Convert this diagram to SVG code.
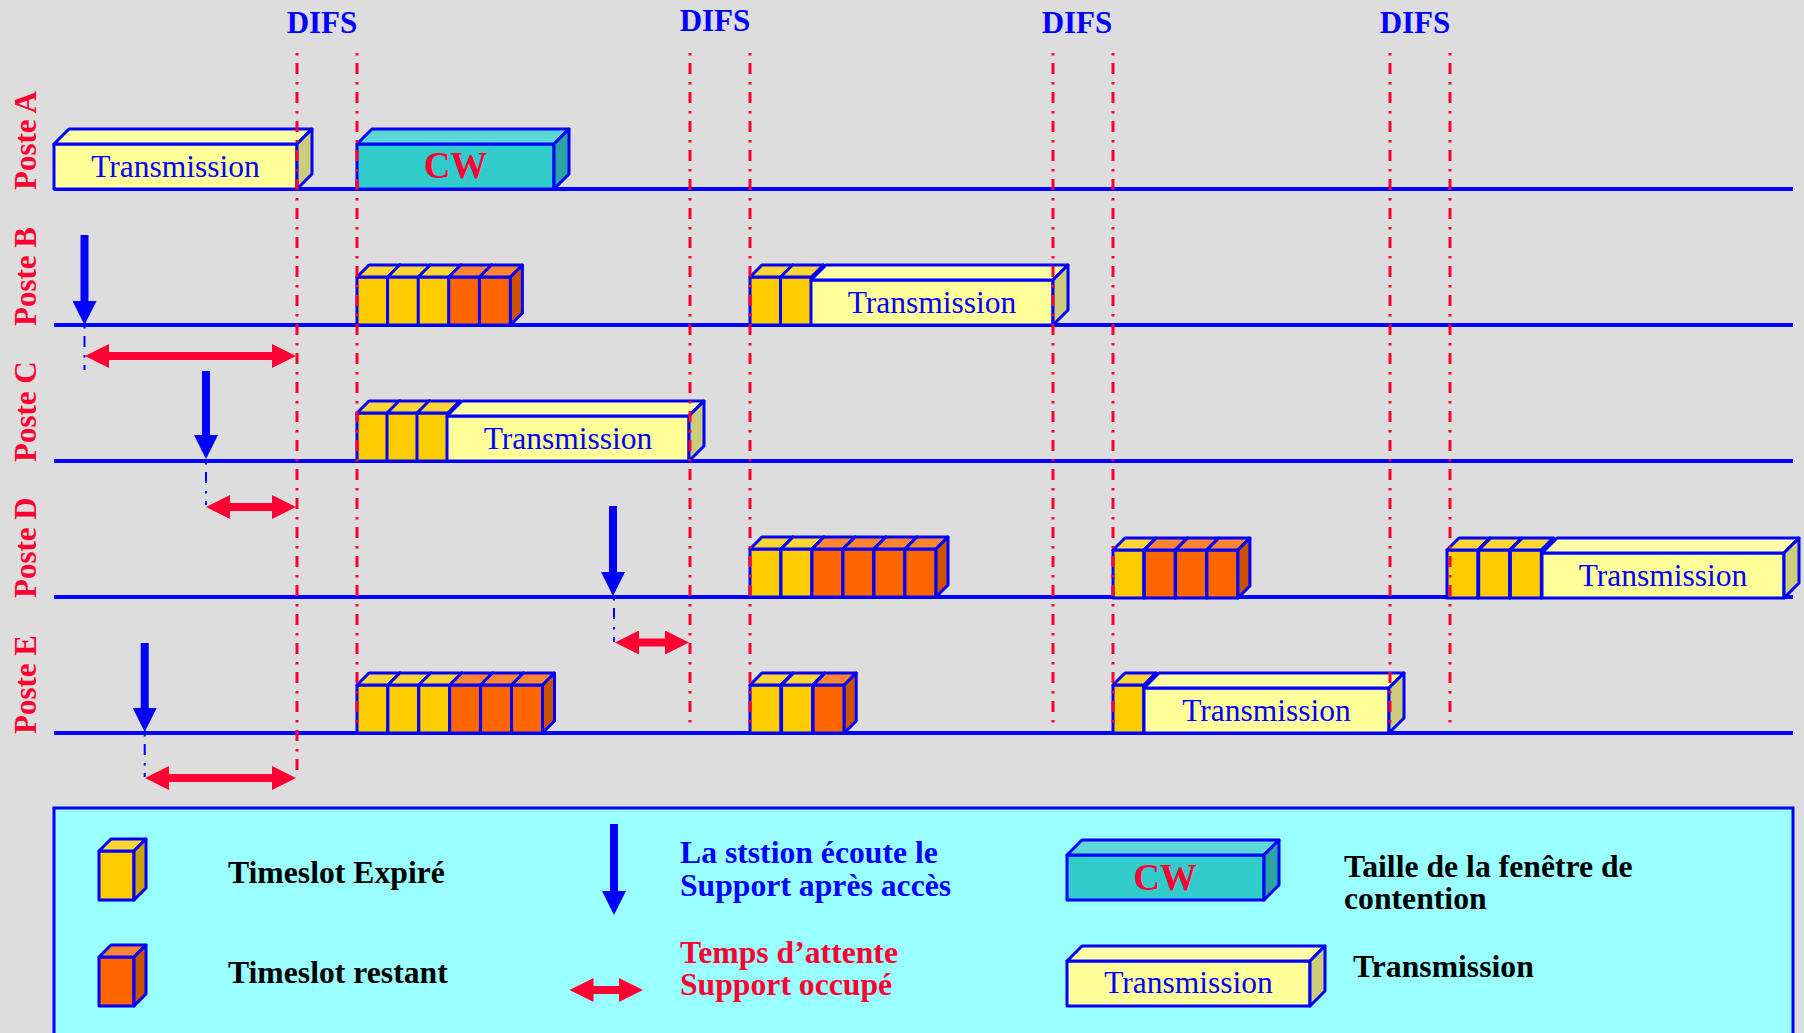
<svg xmlns="http://www.w3.org/2000/svg" xmlns:xlink="http://www.w3.org/1999/xlink" width="1804" height="1033" viewBox="0 0 1804 1033">
<style>
.bx{stroke:#0000FF;stroke-width:3;stroke-linejoin:round}
.fy{fill:#FFCC00}.ty{fill:#FFD633}.sy{fill:#CCA300}
.fo{fill:#FF6600}.to{fill:#FF8533}.so{fill:#CC5200}
.ft{fill:#FFFF99}.tt{fill:#FFFFA6}.st{fill:#CCCC7A}
.fc{fill:#33CCCC}.tc{fill:#5CD6D6}.sc{fill:#2AA3A3}
.base{stroke:#0000FF;stroke-width:4;fill:none}
.difs{stroke:#FF0033;stroke-width:3;stroke-dasharray:2.5 7.5 11 8;fill:none}
.bdot{stroke:#0000FF;stroke-width:2;stroke-dasharray:2.5 7.5 11 8;fill:none}
.barr{stroke:#0000FF;stroke-width:8;fill:none;marker-end:url(#hb)}
.rarr{stroke:#FF0033;stroke-width:8;fill:none;marker-start:url(#hr);marker-end:url(#hr)}
.tx{font-family:"Liberation Serif","Times New Roman",serif;font-size:31.5px;fill:#0000FF;text-anchor:middle}
.lbl{font-family:"Liberation Serif","Times New Roman",serif;font-size:31px;font-weight:bold}
.leg{font-family:"Liberation Serif","Times New Roman",serif;font-size:31.7px;font-weight:bold}
.cw{font-family:"Liberation Serif","Times New Roman",serif;font-size:37px;font-weight:bold;fill:#FF0033;text-anchor:middle}
</style>
<defs>
<marker id="hb" viewBox="0 0 3 3" markerWidth="3" markerHeight="3" refX="0.125" refY="1.5" orient="auto"><path d="M0,0 L3,1.5 L0,3 Z" fill="#0000FF"/></marker>
<marker id="hr" viewBox="0 0 3 3" markerWidth="3" markerHeight="3" refX="0.125" refY="1.5" orient="auto-start-reverse"><path d="M0,0 L3,1.5 L0,3 Z" fill="#FF0033"/></marker>
<g id="cy" class="bx"><rect class="fy" x="0" y="-48" width="31" height="48"/><polygon class="ty" points="0,-48 12,-60 43,-60 31,-48"/><polygon class="sy" points="31,-48 43,-60 43,-12 31,0"/></g>
<g id="co" class="bx"><rect class="fo" x="0" y="-48" width="31" height="48"/><polygon class="to" points="0,-48 12,-60 43,-60 31,-48"/><polygon class="so" points="31,-48 43,-60 43,-12 31,0"/></g>
</defs>
<rect x="0" y="0" width="1804" height="1033" fill="#DDDDDD"/>

<g id="timelines">
<line class="base" x1="54" y1="189" x2="1793" y2="189"/>
<line class="base" x1="54" y1="325" x2="1793" y2="325"/>
<line class="base" x1="54" y1="461" x2="1793" y2="461"/>
<line class="base" x1="54" y1="597" x2="1793" y2="597"/>
<line class="base" x1="54" y1="733" x2="1793" y2="733"/>
</g>

<g id="labels" class="lbl" fill="#FF0033">
<text transform="translate(36,190) rotate(-90)">Poste A</text>
<text transform="translate(36,326) rotate(-90)">Poste B</text>
<text transform="translate(36,462) rotate(-90)">Poste C</text>
<text transform="translate(36,598) rotate(-90)">Poste D</text>
<text transform="translate(36,734) rotate(-90)">Poste E</text>
</g>

<g id="difs-labels" class="lbl" fill="#0000FF" text-anchor="middle">
<text x="322" y="33">DIFS</text>
<text x="715" y="31">DIFS</text>
<text x="1077" y="33">DIFS</text>
<text x="1415" y="33">DIFS</text>
</g>

<g id="posteA">
<g class="bx"><rect class="ft" x="54" y="144" width="243" height="45"/><polygon class="tt" points="54,144 69,129 312,129 297,144"/><polygon class="st" points="297,144 312,129 312,174 297,189"/></g>
<text class="tx" x="175.5" y="177">Transmission</text>
<g class="bx"><rect class="fc" x="357" y="144" width="197" height="45"/><polygon class="tc" points="357,144 372,129 569,129 554,144"/><polygon class="sc" points="554,144 569,129 569,174 554,189"/></g>
<text class="cw" x="455.5" y="178">CW</text>
</g>

<g id="posteB">
<use href="#cy" x="357" y="325"/><use href="#cy" x="387.6" y="325"/><use href="#cy" x="418.2" y="325"/><use href="#co" x="448.8" y="325"/><use href="#co" x="479.4" y="325"/>
<use href="#cy" x="750" y="325"/><use href="#cy" x="780.5" y="325"/>
<g class="bx"><rect class="ft" x="811" y="280" width="242" height="45"/><polygon class="tt" points="811,280 826,265 1068,265 1053,280"/><polygon class="st" points="1053,280 1068,265 1068,310 1053,325"/></g>
<text class="tx" x="932" y="313">Transmission</text>
</g>

<g id="posteC">
<use href="#cy" x="357" y="461"/><use href="#cy" x="387" y="461"/><use href="#cy" x="417" y="461"/>
<g class="bx"><rect class="ft" x="447" y="416" width="242" height="45"/><polygon class="tt" points="447,416 462,401 704,401 689,416"/><polygon class="st" points="689,416 704,401 704,446 689,461"/></g>
<text class="tx" x="568" y="449">Transmission</text>
</g>

<g id="posteD">
<use href="#cy" x="750" y="597"/><use href="#cy" x="781" y="597"/><use href="#co" x="812" y="597"/><use href="#co" x="843" y="597"/><use href="#co" x="874" y="597"/><use href="#co" x="905" y="597"/>
<use href="#cy" x="1113" y="598"/><use href="#co" x="1144.3" y="598"/><use href="#co" x="1175.6" y="598"/><use href="#co" x="1206.9" y="598"/>
<use href="#cy" x="1447" y="598"/><use href="#cy" x="1478.7" y="598"/><use href="#cy" x="1510.4" y="598"/>
<g class="bx"><rect class="ft" x="1542" y="553" width="242" height="45"/><polygon class="tt" points="1542,553 1557,538 1799,538 1784,553"/><polygon class="st" points="1784,553 1799,538 1799,583 1784,598"/></g>
<text class="tx" x="1663" y="586">Transmission</text>
</g>

<g id="posteE">
<use href="#cy" x="357" y="733"/><use href="#cy" x="387.9" y="733"/><use href="#cy" x="418.8" y="733"/><use href="#co" x="449.7" y="733"/><use href="#co" x="480.6" y="733"/><use href="#co" x="511.5" y="733"/>
<use href="#cy" x="750" y="733"/><use href="#cy" x="781.6" y="733"/><use href="#co" x="813.2" y="733"/>
<use href="#cy" x="1113" y="733"/>
<g class="bx"><rect class="ft" x="1144" y="688" width="245" height="45"/><polygon class="tt" points="1144,688 1159,673 1404,673 1389,688"/><polygon class="st" points="1389,688 1404,673 1404,718 1389,733"/></g>
<text class="tx" x="1266.5" y="721">Transmission</text>
</g>

<g id="connectors">
<line class="difs" x1="297" y1="53" x2="297" y2="776"/>
<line class="difs" x1="357" y1="53" x2="357" y2="728"/>
<line class="difs" x1="690" y1="53" x2="690" y2="728"/>
<line class="difs" x1="750" y1="53" x2="750" y2="728"/>
<line class="difs" x1="1053" y1="53" x2="1053" y2="728"/>
<line class="difs" x1="1113" y1="53" x2="1113" y2="728"/>
<line class="difs" x1="1390" y1="53" x2="1390" y2="728"/>
<line class="difs" x1="1450" y1="53" x2="1450" y2="728"/>
<line class="bdot" x1="84.5" y1="326" x2="84.5" y2="370"/>
<line class="bdot" x1="206" y1="462" x2="206" y2="505"/>
<line class="bdot" x1="614" y1="598" x2="614" y2="642"/>
<line class="bdot" x1="144.7" y1="734" x2="144.7" y2="777"/>
<line class="barr" x1="84.5" y1="235" x2="84.5" y2="302"/>
<line class="barr" x1="206" y1="371" x2="206" y2="436"/>
<line class="barr" x1="613" y1="506" x2="613" y2="573"/>
<line class="barr" x1="144.7" y1="643" x2="144.7" y2="709"/>
<line class="rarr" x1="108" y1="356" x2="273" y2="356"/>
<line class="rarr" x1="229" y1="507" x2="273" y2="507"/>
<line class="rarr" x1="638" y1="642.5" x2="666" y2="642.5"/>
<line class="rarr" x1="168" y1="778" x2="273" y2="778"/>
</g>

<g id="legend">
<rect x="54" y="808" width="1739" height="240" fill="#99FFFF" stroke="#0000FF" stroke-width="3"/>
<g id="leg-expired">
<g class="bx"><rect class="fy" x="99" y="851" width="35" height="49"/><polygon class="ty" points="99,851 111,839 146,839 134,851"/><polygon class="sy" points="134,851 146,839 146,888 134,900"/></g>
<text class="leg" x="228" y="883" fill="#000000">Timeslot Expiré</text>
</g>
<g id="leg-remaining">
<g class="bx"><rect class="fo" x="99" y="957" width="35" height="49"/><polygon class="to" points="99,957 111,945 146,945 134,957"/><polygon class="so" points="134,957 146,945 146,994 134,1006"/></g>
<text class="leg" x="228" y="983" fill="#000000">Timeslot restant</text>
</g>
<g id="leg-listen">
<line class="barr" x1="614" y1="824" x2="614" y2="892"/>
<text class="leg" fill="#0000FF"><tspan x="680" y="863">La ststion écoute le</tspan><tspan x="680" y="896">Support après accès</tspan></text>
</g>
<g id="leg-wait">
<line class="rarr" x1="592.5" y1="990" x2="620" y2="990"/>
<text class="leg" fill="#FF0033"><tspan x="680" y="963">Temps d’attente</tspan><tspan x="680" y="995">Support occupé</tspan></text>
</g>
<g id="leg-cw">
<g class="bx"><rect class="fc" x="1067" y="855" width="197" height="45"/><polygon class="tc" points="1067,855 1082,840 1279,840 1264,855"/><polygon class="sc" points="1264,855 1279,840 1279,885 1264,900"/></g>
<text class="cw" x="1165" y="890">CW</text>
<text class="leg" fill="#000000"><tspan x="1344" y="877">Taille de la fenêtre de</tspan><tspan x="1344" y="909">contention</tspan></text>
</g>
<g id="leg-tx">
<g class="bx"><rect class="ft" x="1067" y="961" width="243" height="45"/><polygon class="tt" points="1067,961 1082,946 1325,946 1310,961"/><polygon class="st" points="1310,961 1325,946 1325,991 1310,1006"/></g>
<text class="tx" x="1188.5" y="993">Transmission</text>
<text class="leg" x="1353" y="977" fill="#000000">Transmission</text>
</g>
</g>
</svg>
